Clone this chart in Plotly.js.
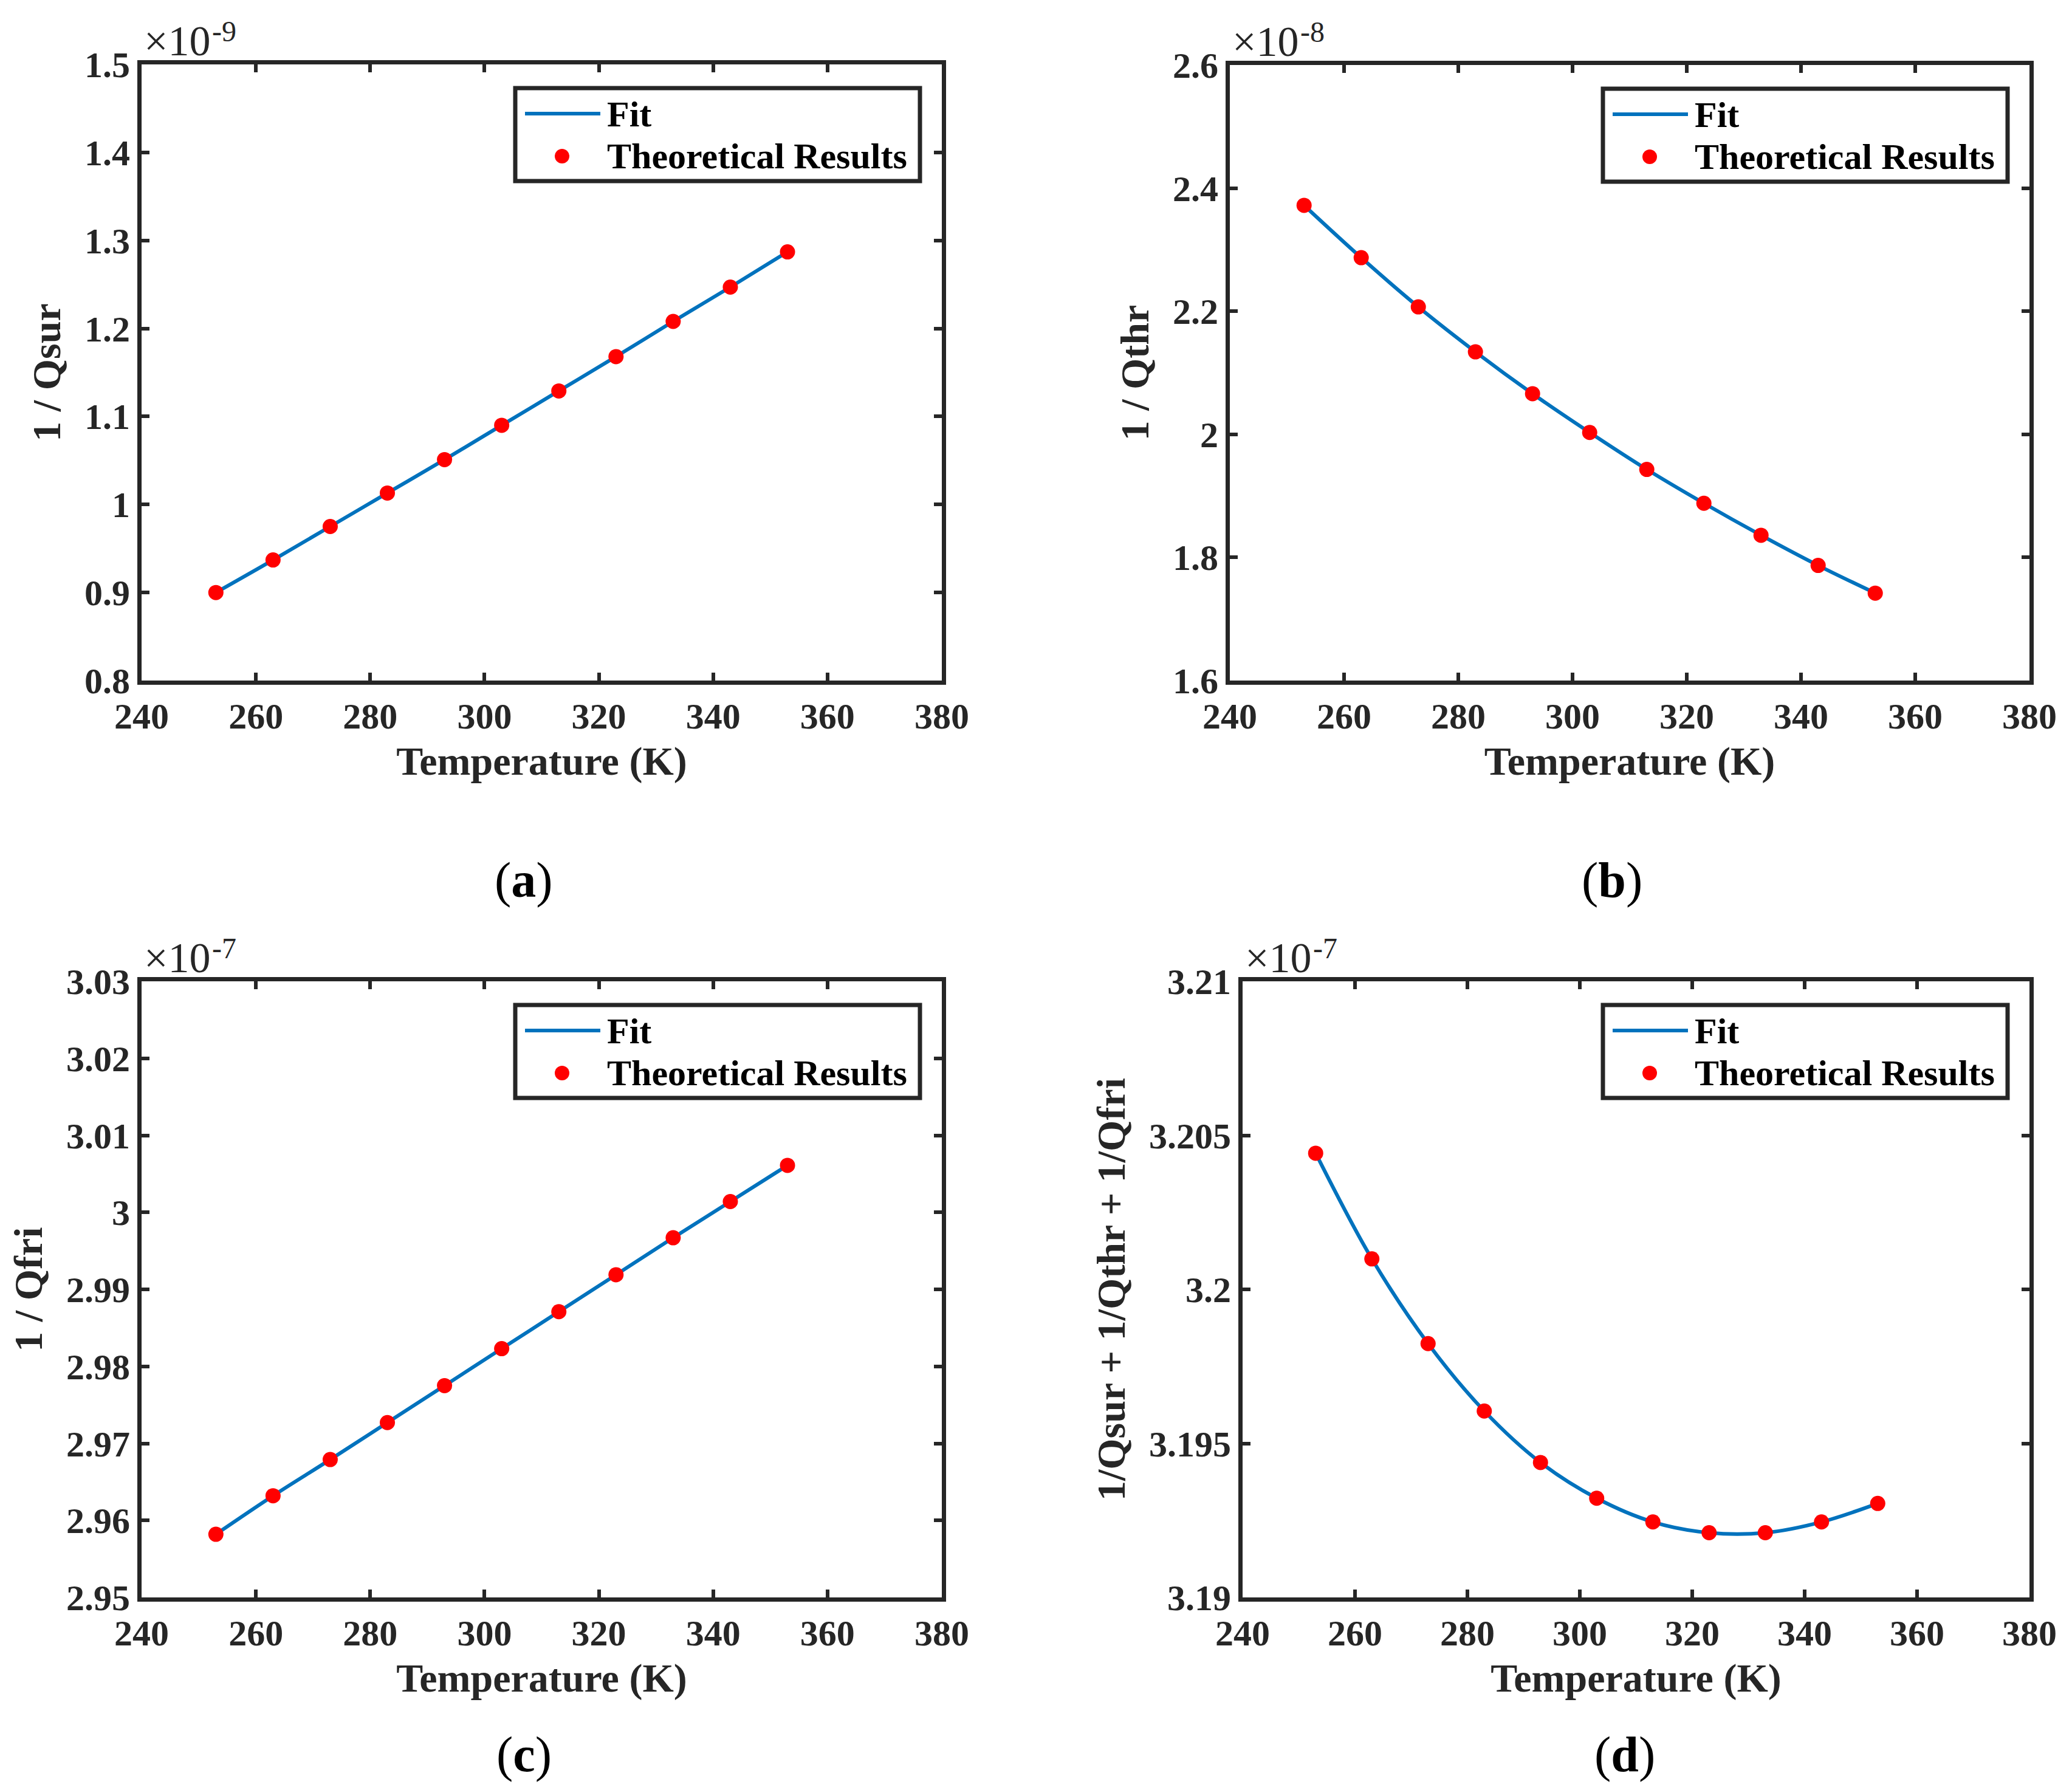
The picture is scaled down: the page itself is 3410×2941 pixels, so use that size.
<!DOCTYPE html>
<html>
<head>
<meta charset="utf-8">
<script src="https://cdn.plot.ly/plotly-3.0.1.min.js"></script>
<style>body{margin:0;background:#fff}</style>
</head>
<body>
<div id="chart"></div>
<script>
// temperatures shared by all four panels (K)
var temps = [253, 263, 273, 283, 293, 303, 313, 323, 333, 343, 353];

// values as printed on each y axis; the axis multiplier is drawn apart
var qsur = [0.900, 0.937, 0.975, 1.013, 1.051, 1.090, 1.129, 1.168, 1.208, 1.247, 1.287];            // x1e-9
var qthr = [2.372, 2.287, 2.207, 2.134, 2.066, 2.003, 1.943, 1.888, 1.836, 1.787, 1.742];            // x1e-8
var qfri = [2.9582, 2.9632, 2.9679, 2.9727, 2.9775, 2.9823, 2.9871, 2.9919, 2.9967, 3.0014, 3.0061]; // x1e-7
var qtot = [3.20442, 3.20099, 3.19824, 3.19605, 3.19438, 3.19322, 3.19245, 3.19210, 3.19210, 3.19245, 3.19305]; // x1e-7

var yTitles = ['1 / Qsur', '1 / Qthr', '1 / Qfri', '1/Qsur + 1/Qthr + 1/Qfri'];
var exponents = ['-9', '-8', '-7', '-7'];
var captions = ['a', 'b', 'c', 'd'];
var yRanges = [[0.8, 1.5], [1.6, 2.6], [2.95, 3.03], [3.19, 3.21]];
var yDticks = [0.1, 0.2, 0.01, 0.005];
var series = [qsur, qthr, qfri, qtot];

var W = 3410, H = 2941;
var ink = '#262626';
var serif = '"Liberation Serif", "Times New Roman", serif';

// plot boxes in page pixels
var boxes = [
  {l: 233, r: 1550, t: 106, b: 1120},
  {l: 2024, r: 3340, t: 107, b: 1120},
  {l: 233, r: 1550, t: 1615, b: 2629},
  {l: 2045, r: 3340, t: 1615, b: 2629}
];
var captionY = [1448, 1448, 2887, 2887];

function px(x) { return x / W; }
function py(y) { return 1 - y / H; }

var data = [];
var layout = {
  width: W,
  height: H,
  margin: {l: 0, r: 0, t: 0, b: 0},
  paper_bgcolor: '#fff',
  plot_bgcolor: '#fff',
  showlegend: false,
  shapes: [],
  annotations: []
};

for (var i = 0; i < 4; i++) {
  var n = i === 0 ? '' : String(i + 1);
  var bx = boxes[i];

  data.push({
    type: 'scatter', mode: 'lines', name: 'Fit',
    x: temps, y: series[i],
    xaxis: 'x' + n, yaxis: 'y' + n,
    line: {color: '#0072BD', width: 6, shape: 'spline', smoothing: 1},
    hoverinfo: 'skip'
  });
  data.push({
    type: 'scatter', mode: 'markers', name: 'Theoretical Results',
    x: temps, y: series[i],
    xaxis: 'x' + n, yaxis: 'y' + n,
    marker: {color: '#FF0000', size: 25}
  });

  var axBase = {
    showline: true, linecolor: ink, linewidth: 7, mirror: 'ticks',
    ticks: 'inside', ticklen: 13, tickwidth: 6, tickcolor: ink,
    showgrid: false, zeroline: false,
    tickfont: {family: serif, size: 60, weight: 'bold', color: ink}
  };

  layout['xaxis' + n] = Object.assign({}, axBase, {
    domain: [px(bx.l), px(bx.r)],
    anchor: 'y' + n,
    range: [240, 380], tick0: 240, dtick: 20,
    title: {text: 'Temperature (K)', standoff: 20,
            font: {family: serif, size: 66, weight: 'bold', color: ink}}
  });
  layout['yaxis' + n] = Object.assign({}, axBase, {
    domain: [py(bx.b), py(bx.t)],
    anchor: 'x' + n,
    range: yRanges[i], tick0: yRanges[i][0], dtick: yDticks[i],
    title: {text: yTitles[i], standoff: 20,
            font: {family: serif, size: 66, weight: 'bold', color: ink}}
  });

  // axis multiplier: base and raised exponent
  layout.annotations.push({
    xref: 'paper', yref: 'paper',
    x: px(bx.l + 2), y: py(bx.t + 2), xanchor: 'left', yanchor: 'bottom',
    text: '\u00d710', showarrow: false,
    font: {family: serif, size: 70, color: ink}
  });
  layout.annotations.push({
    xref: 'paper', yref: 'paper',
    x: px(bx.l + 114), y: py(bx.t - 26), xanchor: 'left', yanchor: 'bottom',
    text: exponents[i], showarrow: false,
    font: {family: serif, size: 48, color: ink}
  });

  // panel caption
  layout.annotations.push({
    xref: 'paper', yref: 'paper',
    x: px(bx.l + 629), y: py(captionY[i]), xanchor: 'center', yanchor: 'middle',
    text: '(<b>' + captions[i] + '</b>)', showarrow: false,
    font: {family: serif, size: 82, color: '#000'}
  });

  // legend box, drawn in page pixels from the plot's top-right corner
  var lr = bx.r - 36, ll = bx.r - 702, lt = bx.t + 39, lb = bx.t + 192;
  layout.shapes.push({
    type: 'rect', xref: 'paper', yref: 'paper',
    x0: px(ll), x1: px(lr), y0: py(lb), y1: py(lt),
    fillcolor: '#fff', line: {color: ink, width: 7}
  });
  layout.shapes.push({
    type: 'line', xref: 'paper', yref: 'paper',
    x0: px(bx.r - 686), x1: px(bx.r - 562), y0: py(bx.t + 81), y1: py(bx.t + 81),
    line: {color: '#0072BD', width: 6}
  });
  layout.shapes.push({
    type: 'circle', xref: 'paper', yref: 'paper',
    xsizemode: 'pixel', ysizemode: 'pixel',
    xanchor: px(bx.r - 625), yanchor: py(bx.t + 151),
    x0: -12, x1: 12, y0: -12, y1: 12,
    fillcolor: '#FF0000', line: {width: 0}
  });
  var names = [data[data.length - 2].name, data[data.length - 1].name];
  var rowsY = [bx.t + 82, bx.t + 151];
  for (var k = 0; k < 2; k++) {
    layout.annotations.push({
      xref: 'paper', yref: 'paper',
      x: px(bx.r - 553), y: py(rowsY[k]), xanchor: 'left', yanchor: 'middle',
      text: names[k], showarrow: false,
      font: {family: serif, size: 60, weight: 'bold', color: '#000'}
    });
  }
}

Plotly.newPlot('chart', data, layout, {displayModeBar: false, staticPlot: true});
</script>
</body>
</html>
